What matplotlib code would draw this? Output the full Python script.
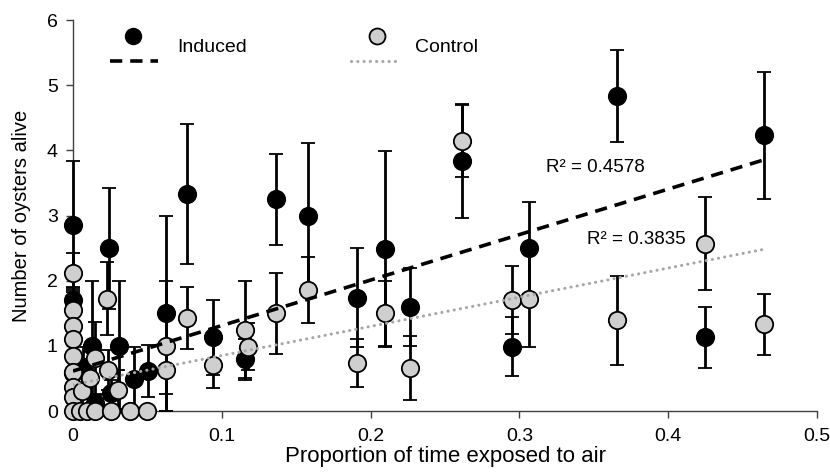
import numpy as np
import matplotlib
matplotlib.use('Agg')
import matplotlib.pyplot as plt

# Dados (proporcao de tempo exposto ao ar x ostras vivas)
induced_x = [0, 0, 0, 0.007, 0.013, 0.0145, 0.0245, 0.0255, 0.031, 0.041,
             0.0507, 0.0624, 0.0765, 0.0938, 0.1154, 0.1363, 0.1576, 0.191,
             0.2097, 0.2266, 0.2617, 0.2949, 0.3066, 0.3657, 0.4245, 0.4642]
induced_y = [2.86, 1.70, 0.58, 0.68, 1.0, 0.12, 2.50, 0.27, 1.0, 0.49,
             0.61, 1.50, 3.33, 1.13, 0.80, 3.25, 3.0, 1.74,
             2.49, 1.60, 3.835, 0.99, 2.50, 4.835, 1.13, 4.23]
induced_err = [0.97, 0.2, 0.3, 0.3, 1.0, 0.12, 0.93, 0.2, 1.0, 0.5,
               0.4, 1.5, 1.08, 0.57, 0.3, 0.7, 1.12, 0.76,
               1.5, 0.6, 0.88, 0.45, 0.71, 0.7, 0.47, 0.97]

control_x = [0, 0, 0, 0, 0, 0, 0, 0, 0, 0.0045, 0.006, 0.0095, 0.0114, 0.0148,
             0.0145, 0.0227, 0.0238, 0.0254, 0.0305, 0.0384, 0.050, 0.0624,
             0.0624, 0.0765, 0.0938, 0.1154, 0.1176, 0.1363, 0.1576, 0.191,
             0.2097, 0.2266, 0.2617, 0.2949, 0.3066, 0.3657, 0.4245, 0.4642]
control_y = [2.12, 1.55, 1.30, 1.10, 0.85, 0.60, 0.37, 0.22, 0.0, 0.0, 0.30, 0.0,
             0.50, 0.81, 0.0, 1.72, 0.63, 0.0, 0.33, 0.0, 0.0, 1.0,
             0.63, 1.43, 0.71, 1.24, 0.99, 1.50, 1.86, 0.74,
             1.50, 0.66, 4.14, 1.70, 1.72, 1.39, 2.57, 1.33]
control_err = [0.3, 0.3, 0.2, 0.2, 0.2, 0.2, 0.2, 0.2, 0.0, 0.0, 0.3, 0.0,
               0.3, 0.55, 0.0, 0.56, 0.3, 0.0, 0.3, 0.0, 0.0, 1.0,
               0.37, 0.48, 0.36, 0.76, 0.36, 0.62, 0.51, 0.37,
               0.5, 0.49, 0.55, 0.52, 0.73, 0.68, 0.72, 0.47]

# Linhas de tendencia (inclinacao, intercepto) e R2
induced_fit = (6.98, 0.614)
control_fit = (4.476, 0.404)
induced_r2 = 'R² = 0.4578'
control_r2 = 'R² = 0.3835'

x_ticks = [0, 0.1, 0.2, 0.3, 0.4, 0.5]
x_tick_labels = ['0', '0.1', '0.2', '0.3', '0.4', '0.5']
y_ticks = [0, 1, 2, 3, 4, 5, 6]

plt.rcParams['font.family'] = ['Liberation Sans', 'DejaVu Sans']

CINZA = '#cfcfcf'
CINZA_LINHA = '#a6a6a6'


def serie(ax, x, y, err, cor):
	cont = ax.errorbar(x, y, yerr=err, fmt='o', ms=12.5, mfc=cor, mec='black',
	                   mew=1.3, ecolor='black', elinewidth=2.0, capsize=5,
	                   capthick=2.0, zorder=3)
	for artista in cont.get_children():
		artista.set_clip_on(False)


def tendencia(ax, x, fit, **estilo):
	xs = np.array([min(x), max(x)])
	ax.plot(xs, fit[0] * xs + fit[1], zorder=5, **estilo)


def legenda(ax):
	t = ax.transAxes
	ax.plot([0.0806], [0.959], 'o', ms=11.5, mfc='black', mec='black', transform=t, clip_on=False)
	ax.plot([0.0497, 0.1142], [0.8951, 0.8951], color='black', lw=2.6,
	        dashes=(3.4, 2.2), transform=t, clip_on=False)
	ax.text(0.1398, 0.931, 'Induced', fontsize=14, va='center', transform=t)
	ax.plot([0.408], [0.959], 'o', ms=11.5, mfc=CINZA, mec='black', mew=1.3, transform=t, clip_on=False)
	ax.plot([0.3742, 0.4395], [0.8951, 0.8951], color=CINZA_LINHA, lw=2.2,
	        dashes=(0.05, 2.0), dash_capstyle='round', transform=t, clip_on=False)
	ax.text(0.4597, 0.931, 'Control', fontsize=14, va='center', transform=t)


def main():
	fig = plt.figure(figsize=(8.3, 4.73), dpi=100)
	ax = fig.add_axes([0.088, 0.131, 0.8964, 0.8266])

	serie(ax, induced_x, induced_y, induced_err, 'black')
	serie(ax, control_x, control_y, control_err, CINZA)

	tendencia(ax, induced_x, induced_fit, color='black', lw=2.6, dashes=(3.4, 2.2))
	tendencia(ax, control_x, control_fit, color=CINZA_LINHA, lw=2.2,
	          dashes=(0.05, 2.0), dash_capstyle='round')

	ax.text(0.318, 3.73, induced_r2, fontsize=13.5, va='center')
	ax.text(0.3455, 2.63, control_r2, fontsize=13.5, va='center')

	legenda(ax)

	ax.set_xlim(0, 0.5)
	ax.set_ylim(0, 6)
	ax.set_xticks(x_ticks)
	ax.set_xticklabels(x_tick_labels)
	ax.set_yticks(y_ticks)
	ax.tick_params(axis='both', labelsize=14, direction='out', length=5,
	               width=1, color='#404040')
	ax.tick_params(axis='x', pad=7)
	ax.tick_params(axis='y', pad=6)
	for lado in ['top', 'right']:
		ax.spines[lado].set_visible(False)
	for lado in ['left', 'bottom']:
		ax.spines[lado].set_color('#404040')
		ax.spines[lado].set_linewidth(1)

	ax.set_xlabel('Proportion of time exposed to air', fontsize=16, labelpad=1)
	ax.set_ylabel('Number of oysters alive', fontsize=14.5, labelpad=11)

	fig.savefig('out.png', dpi=100)


main()
